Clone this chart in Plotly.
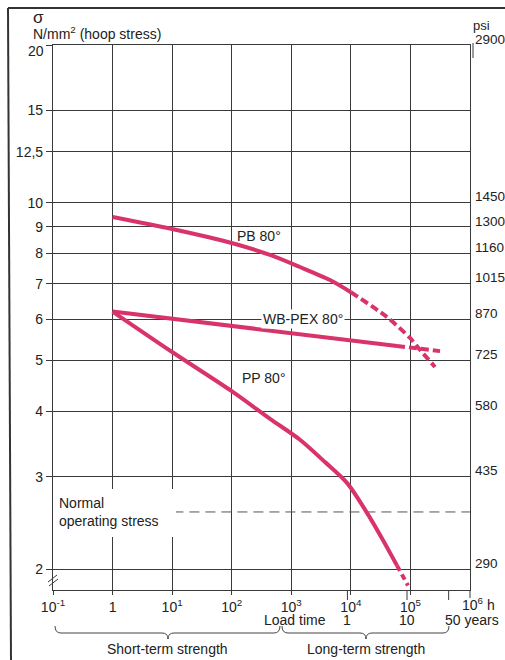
import numpy as np
import plotly.graph_objects as go

# ---------------- data (hours, N/mm2) ----------------
pb_solid_h = [1, 10, 100, 440, 1400, 4470, 10000]
pb_solid_s = [9.39, 8.91, 8.38, 7.95, 7.54, 7.12, 6.75]
pb_dash_h = [10000, 40450, 98400, 144500, 258800]
pb_dash_s = [6.75, 6.05, 5.52, 5.24, 4.86]

pex_solid_h = [1, 100, 59600]
pex_solid_s = [6.2, 5.82, 5.33]
pex_dash_h = [59600, 314000]
pex_dash_s = [5.33, 5.21]

pp_solid_h = [1, 10, 100, 440, 1400, 3680, 8610, 18660, 34700, 59600]
pp_solid_s = [6.2, 5.19, 4.37, 3.87, 3.53, 3.20, 2.92, 2.56, 2.27, 2.03]
pp_dash_h = [59600, 91000]
pp_dash_s = [2.03, 1.86]

normal_h = [10.5, 1e6]
normal_s = [2.57, 2.57]

y_ticks = [2, 3, 4, 5, 6, 7, 8, 9, 10, 12.5, 15, 20]
y_ticktext = ["2", "3", "4", "5", "6", "7", "8", "9", "10", "12,5", "15", ""]
x_ticks = [0.1, 1, 10, 100, 1e3, 1e4, 1e5]
x_ticktext = ["10<sup>-1</sup>", "1", "10<sup>1</sup>", "10<sup>2</sup>",
              "10<sup>3</sup>", "10<sup>4</sup>", "10<sup>5</sup>"]
psi_ticks = [2900, 1450, 1300, 1160, 1015, 870, 725, 580, 435, 290]
psi_per_nmm2 = 145.0
year_hours = [8760, 87600, 438000]
year_labels = ["1", "10", "50 years"]

# ---------------- layout geometry (page pixels) ----------------
W, H = 505, 660
L, T, PW, PH = 53, 45, 417, 545
R, B = W - L - PW, H - T - PH
X_RANGE = [-1, 6]
Y_RANGE = [0.261, np.log10(20)]

def xp(px):
    return (px - L) / PW

def yp(py):
    return (T + PH - py) / PH

def hx(hours):
    return (np.log10(hours) - X_RANGE[0]) / (X_RANGE[1] - X_RANGE[0])

RED = "#d8336a"
GRID = "#3a3a3a"
TXT = "#222222"
FONT = "Liberation Sans, Arial, sans-serif"
FS = 14

fig = go.Figure()

def line(xs, ys, dash=None, width=4, color=RED, smooth=True):
    fig.add_trace(go.Scatter(
        x=xs, y=ys, mode="lines",
        line=dict(color=color, width=width, dash=dash,
                  shape="spline" if smooth else "linear", smoothing=0.8),
        hoverinfo="skip", showlegend=False))

line(normal_h, normal_s, dash="10px,6px", width=1, color="#555555", smooth=False)
line(pb_solid_h, pb_solid_s)
line(pb_dash_h, pb_dash_s, dash="8px,4px")
line(pex_solid_h, pex_solid_s, smooth=False)
line(pex_dash_h, pex_dash_s, dash="8px,4px", smooth=False)
line(pp_solid_h, pp_solid_s)
line(pp_dash_h, pp_dash_s, dash="6px,4px", smooth=False)

shapes = []
# white box behind "Normal operating stress"
shapes.append(dict(type="rect", xref="paper", yref="paper",
                   x0=xp(55), x1=xp(176), y0=yp(537), y1=yp(489),
                   fillcolor="white", line=dict(width=0), layer="above"))
# year ticks below axis
for h in year_hours:
    shapes.append(dict(type="line", xref="paper", yref="paper",
                       x0=hx(h), x1=hx(h), y0=yp(590), y1=yp(600),
                       line=dict(color=GRID, width=1)))
shapes.append(dict(type="line", xref="paper", yref="paper",
                   x0=1, x1=1, y0=yp(590), y1=yp(598),
                   line=dict(color=GRID, width=1)))
# axis break mark
shapes.append(dict(type="line", xref="paper", yref="paper",
                   x0=xp(48), x1=xp(57), y0=yp(582), y1=yp(575),
                   line=dict(color=GRID, width=1)))
shapes.append(dict(type="line", xref="paper", yref="paper",
                   x0=xp(49), x1=xp(58), y0=yp(586), y1=yp(579),
                   line=dict(color=GRID, width=1)))
# bracket near 2900
shapes.append(dict(type="line", xref="paper", yref="paper",
                   x0=xp(473), x1=xp(473), y0=yp(43), y1=yp(58),
                   line=dict(color=GRID, width=1)))
# outer frame
shapes.append(dict(type="line", xref="paper", yref="paper",
                   x0=xp(8), x1=xp(505), y0=yp(8), y1=yp(8),
                   line=dict(color="#333", width=2)))
shapes.append(dict(type="line", xref="paper", yref="paper",
                   x0=xp(8), x1=xp(11), y0=yp(8), y1=yp(660),
                   line=dict(color="#333", width=2)))

def brace(x1, x2, xt, ytop, ymid, ytip, r=6):
    P = lambda px, py: f"{xp(px):.5f},{yp(py):.5f}"
    d = (f"M {P(x1, ytop)} Q {P(x1, ymid)} {P(x1 + r, ymid)} "
         f"L {P(xt - r, ymid)} Q {P(xt, ymid)} {P(xt, ytip)} "
         f"Q {P(xt, ymid)} {P(xt + r, ymid)} "
         f"L {P(x2 - r, ymid)} Q {P(x2, ymid)} {P(x2, ytop)}")
    return dict(type="path", xref="paper", yref="paper", path=d,
                line=dict(color="#444", width=1))

shapes.append(brace(55, 280, 168, 626, 633, 639))
shapes.append(brace(282, 449, 366, 626, 633, 639))

ann = []
def A(text, x, y, xref="paper", yref="paper", size=FS, xanchor="center",
      yanchor="middle", **kw):
    ann.append(dict(text=text, x=x, y=y, xref=xref, yref=yref, showarrow=False,
                    xanchor=xanchor, yanchor=yanchor,
                    font=dict(family=FONT, size=size, color=TXT), **kw))

A("σ", xp(31), yp(17), size=17, xanchor="left")
A("N/mm<sup>2</sup> (hoop stress)", xp(31), yp(33), xanchor="left")
A("20", xp(46), yp(51), xanchor="right")
A("psi", xp(471), yp(26), size=13, xanchor="left")
for v in psi_ticks:
    ann.append(dict(text=str(v), x=xp(473), y=np.log10(v / psi_per_nmm2),
                    xref="paper", yref="y", showarrow=False, xanchor="left",
                    yanchor="middle", yshift=6,
                    font=dict(family=FONT, size=13.5, color=TXT)))

A("PB 80°", np.log10(2.9e2), np.log10(8.65), xref="x", yref="y")
A("WB-PEX 80°", np.log10(1.6e3), np.log10(6.0), xref="x", yref="y",
  bgcolor="white", borderpad=1)
A("PP 80°", np.log10(3.4e2), np.log10(4.62), xref="x", yref="y")
A("Normal<br>operating stress", xp(57), yp(512), xanchor="left", align="left")

A("10<sup>6</sup> h", xp(460), yp(604), xanchor="left")
A("Load time", xp(295), yp(620))
for h, t in zip(year_hours, year_labels):
    A(t, hx(h) + (xp(472) - hx(438000) if t == "50 years" else 0), yp(620))
A("Short-term strength", xp(167), yp(649))
A("Long-term strength", xp(366), yp(649))

fig.update_layout(
    width=W, height=H,
    margin=dict(l=L, r=R, t=T, b=B, pad=0),
    paper_bgcolor="white", plot_bgcolor="white",
    font=dict(family=FONT, size=FS, color=TXT),
    showlegend=False,
    shapes=shapes, annotations=ann,
    xaxis=dict(type="log", range=X_RANGE, tickvals=x_ticks, ticktext=x_ticktext,
               showgrid=True, gridcolor=GRID, gridwidth=1,
               showline=True, linecolor=GRID, linewidth=1.2, mirror=True,
               ticks="outside", ticklen=4, tickcolor=GRID,
               tickfont=dict(family=FONT, size=FS, color=TXT), zeroline=False),
    yaxis=dict(type="log", range=Y_RANGE, tickvals=y_ticks, ticktext=y_ticktext,
               showgrid=True, gridcolor=GRID, gridwidth=1,
               showline=True, linecolor=GRID, linewidth=1.2, mirror=True,
               ticks="outside", ticklen=6, tickcolor=GRID,
               tickfont=dict(family=FONT, size=FS, color=TXT), zeroline=False),
)

fig.write_html("out.html",
               config={"displayModeBar": False},
               post_script="document.body.style.margin='0px';"
                           "document.body.style.overflow='hidden';")
